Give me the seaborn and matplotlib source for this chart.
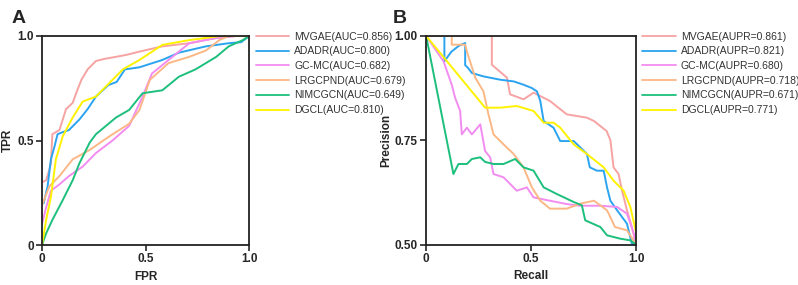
import numpy as np
import pandas as pd
import matplotlib
matplotlib.use("Agg")
import matplotlib.pyplot as plt
import seaborn as sns

methods = ["MVGAE", "ADADR", "GC-MC", "LRGCPND", "NIMCGCN", "DGCL"]
colors = ["#F7A3A3", "#2BA4F0", "#F28CF0", "#FBB886", "#1DBF7C", "#FFF200"]
auc = ["0.856", "0.800", "0.682", "0.679", "0.649", "0.810"]
aupr = ["0.861", "0.821", "0.680", "0.718", "0.671", "0.771"]

# ROC curves (FPR, TPR)
roc_mvgae_x = [0, 0.02, 0.035, 0.043, 0.05, 0.084, 0.1, 0.116, 0.148, 0.17, 0.19, 0.22, 0.26, 0.3, 0.357, 0.41, 0.47, 0.58, 0.71, 0.84, 0.94, 1.0]
roc_mvgae_y = [0.30, 0.31, 0.36, 0.39, 0.53, 0.55, 0.60, 0.65, 0.68, 0.74, 0.79, 0.84, 0.88, 0.89, 0.90, 0.91, 0.925, 0.95, 0.965, 0.99, 1.0, 1.0]
roc_adadr_x = [0.008, 0.027, 0.043, 0.06, 0.075, 0.1, 0.13, 0.18, 0.22, 0.26, 0.32, 0.36, 0.40, 0.47, 0.58, 0.66, 0.79, 0.9, 0.96, 1.0]
roc_adadr_y = [0.20, 0.28, 0.41, 0.47, 0.53, 0.54, 0.55, 0.60, 0.65, 0.71, 0.765, 0.78, 0.84, 0.85, 0.885, 0.92, 0.95, 0.965, 0.97, 1.0]
roc_gcmc_x = [0, 0.02, 0.043, 0.084, 0.13, 0.196, 0.26, 0.34, 0.42, 0.485, 0.53, 0.61, 0.71, 0.84, 0.94, 1.0]
roc_gcmc_y = [0.10, 0.18, 0.26, 0.29, 0.33, 0.375, 0.44, 0.50, 0.57, 0.71, 0.82, 0.885, 0.965, 0.99, 1.0, 1.0]
roc_lrg_x = [0, 0.035, 0.084, 0.148, 0.23, 0.325, 0.42, 0.47, 0.52, 0.61, 0.71, 0.79, 0.855, 0.90, 1.0]
roc_lrg_y = [0.19, 0.28, 0.33, 0.41, 0.455, 0.52, 0.58, 0.646, 0.79, 0.87, 0.90, 0.93, 0.98, 1.0, 1.0]
roc_nim_x = [0, 0.02, 0.05, 0.1, 0.148, 0.18, 0.23, 0.26, 0.357, 0.42, 0.485, 0.58, 0.66, 0.74, 0.84, 0.90, 0.968, 1.0]
roc_nim_y = [0, 0.056, 0.12, 0.215, 0.31, 0.39, 0.49, 0.53, 0.61, 0.646, 0.726, 0.74, 0.805, 0.84, 0.90, 0.95, 0.98, 1.0]
roc_dgcl_x = [0, 0.02, 0.043, 0.067, 0.1, 0.148, 0.196, 0.26, 0.32, 0.39, 0.47, 0.58, 0.71, 0.84, 0.865, 1.0]
roc_dgcl_y = [0, 0.12, 0.23, 0.41, 0.52, 0.61, 0.686, 0.71, 0.77, 0.84, 0.885, 0.957, 0.98, 0.997, 1.0, 1.0]

# PR curves (Recall, Precision)
pr_mvgae_x = [0, 0.313, 0.313, 0.385, 0.40, 0.464, 0.512, 0.59, 0.67, 0.766, 0.80, 0.86, 0.878, 0.893, 0.917, 0.933, 0.957, 0.98, 1.0]
pr_mvgae_y = [1.0, 1.0, 0.931, 0.90, 0.86, 0.848, 0.864, 0.844, 0.812, 0.804, 0.796, 0.772, 0.75, 0.685, 0.669, 0.63, 0.582, 0.542, 0.50]
pr_adadr_x = [0, 0.087, 0.087, 0.12, 0.155, 0.186, 0.186, 0.2, 0.218, 0.273, 0.353, 0.417, 0.464, 0.504, 0.528, 0.544, 0.56, 0.607, 0.639, 0.703, 0.734, 0.766, 0.78, 0.814, 0.846, 0.862, 0.878, 0.91, 0.957, 0.98, 1.0]
pr_adadr_y = [1.0, 1.0, 0.939, 0.962, 0.976, 0.983, 0.93, 0.923, 0.911, 0.903, 0.895, 0.891, 0.883, 0.875, 0.867, 0.844, 0.796, 0.78, 0.748, 0.748, 0.733, 0.717, 0.685, 0.677, 0.677, 0.637, 0.605, 0.582, 0.55, 0.502, 0.50]
pr_gcmc_x = [0, 0.083, 0.122, 0.138, 0.162, 0.17, 0.194, 0.218, 0.258, 0.281, 0.305, 0.321, 0.369, 0.432, 0.48, 0.512, 0.59, 0.67, 0.734, 0.83, 0.91, 0.957, 0.99, 1.0]
pr_gcmc_y = [1.0, 0.939, 0.883, 0.852, 0.82, 0.764, 0.78, 0.764, 0.788, 0.724, 0.709, 0.669, 0.661, 0.629, 0.637, 0.613, 0.605, 0.597, 0.593, 0.593, 0.59, 0.574, 0.526, 0.50]
pr_lrg_x = [0, 0.122, 0.122, 0.186, 0.194, 0.234, 0.273, 0.297, 0.321, 0.369, 0.417, 0.464, 0.504, 0.544, 0.59, 0.67, 0.734, 0.80, 0.862, 0.90, 0.957, 1.0]
pr_lrg_y = [1.0, 1.0, 0.979, 0.979, 0.963, 0.90, 0.867, 0.812, 0.764, 0.74, 0.717, 0.685, 0.637, 0.605, 0.586, 0.586, 0.598, 0.605, 0.582, 0.542, 0.534, 0.50]
pr_nim_x = [0, 0.13, 0.154, 0.194, 0.218, 0.258, 0.281, 0.321, 0.369, 0.424, 0.464, 0.512, 0.56, 0.623, 0.703, 0.742, 0.758, 0.83, 0.862, 0.925, 0.973, 1.0]
pr_nim_y = [1.0, 0.669, 0.693, 0.693, 0.705, 0.709, 0.698, 0.693, 0.693, 0.705, 0.685, 0.677, 0.637, 0.621, 0.602, 0.594, 0.558, 0.542, 0.522, 0.514, 0.51, 0.50]
pr_dgcl_x = [0, 0.281, 0.353, 0.432, 0.512, 0.56, 0.607, 0.639, 0.703, 0.766, 0.846, 0.893, 0.941, 0.973, 1.0]
pr_dgcl_y = [1.0, 0.828, 0.828, 0.832, 0.82, 0.792, 0.792, 0.78, 0.74, 0.717, 0.685, 0.653, 0.629, 0.59, 0.53]

roc = [(roc_mvgae_x, roc_mvgae_y), (roc_adadr_x, roc_adadr_y), (roc_gcmc_x, roc_gcmc_y),
       (roc_lrg_x, roc_lrg_y), (roc_nim_x, roc_nim_y), (roc_dgcl_x, roc_dgcl_y)]
pr = [(pr_mvgae_x, pr_mvgae_y), (pr_adadr_x, pr_adadr_y), (pr_gcmc_x, pr_gcmc_y),
      (pr_lrg_x, pr_lrg_y), (pr_nim_x, pr_nim_y), (pr_dgcl_x, pr_dgcl_y)]


def to_df(curves, scores, tag):
    rows = []
    for m, (xs, ys), s in zip(methods, curves, scores):
        lab = "%s(%s=%s)" % (m, tag, s)
        for i, (a, b) in enumerate(zip(xs, ys)):
            rows.append((lab, i, a, b))
    return pd.DataFrame(rows, columns=["method", "order", "x", "y"])


df_roc = to_df(roc, auc, "AUC")
df_pr = to_df(pr, aupr, "AUPR")

sns.set_style("ticks")
plt.rcParams["font.family"] = ["Liberation Sans", "DejaVu Sans"]

fig = plt.figure(figsize=(7.98, 2.85), dpi=100)
ax1 = fig.add_axes([0.0526, 0.140, 0.260, 0.734])
ax2 = fig.add_axes([0.534, 0.142, 0.263, 0.732])


def draw(ax, df, xlabel, ylabel, yticks, yticklabels, ylim):
    sns.lineplot(data=df, x="x", y="y", hue="method", palette=colors, sort=False,
                 estimator=None, ax=ax, linewidth=1.4, zorder=2)
    ax.set_xlim(0, 1)
    ax.set_ylim(*ylim)
    ax.set_xticks([0, 0.5, 1.0])
    ax.set_xticklabels(["0", "0.5", "1.0"])
    ax.set_yticks(yticks)
    ax.set_yticklabels(yticklabels)
    for lab in ax.get_xticklabels() + ax.get_yticklabels():
        lab.set_fontweight("bold")
        lab.set_fontsize(8.5)
    ax.set_xlabel(xlabel, fontsize=8.5, fontweight="bold", labelpad=4)
    ax.set_ylabel(ylabel, fontsize=8.5, fontweight="bold", labelpad=2)
    for sp in ax.spines.values():
        sp.set_linewidth(1.3)
        sp.set_color("#222222")
        sp.set_zorder(3)
    ax.tick_params(width=1.2, length=4, pad=2)
    leg = ax.legend(loc="upper left", bbox_to_anchor=(1.01, 1.04), frameon=False,
                    fontsize=7.5, handlelength=3.2, handletextpad=0.5,
                    labelspacing=0.45, borderaxespad=0)
    for txt in leg.get_texts():
        txt.set_color("#333333")
    for line in leg.get_lines():
        line.set_linewidth(1.3)


draw(ax1, df_roc, "FPR", "TPR", [0, 0.5, 1.0], ["0", "0.5", "1.0"], (0, 1))
draw(ax2, df_pr, "Recall", "Precision", [0.5, 0.75, 1.0], ["0.50", "0.75", "1.00"], (0.5, 1))

fig.text(0.015, 0.92, "A", fontsize=14, fontweight="bold")
fig.text(0.492, 0.92, "B", fontsize=14, fontweight="bold")

fig.savefig("out.png", dpi=100)
